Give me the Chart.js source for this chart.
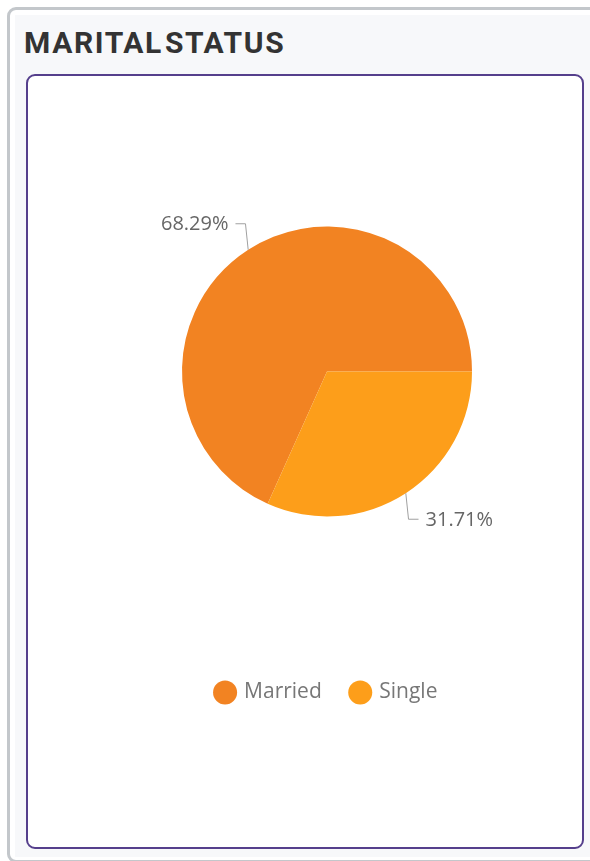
<!DOCTYPE html>
<html>
<head>
<meta charset="utf-8">
<script src="https://cdn.jsdelivr.net/npm/chart.js@4"></script>
<style>
  html, body { margin: 0; padding: 0; background: #fff; width: 590px; height: 861px; overflow: hidden; }
  .outer {
    position: absolute; left: 7px; top: 7px; width: 700px; height: 856px;
    border: 3px solid #c3c7cb; border-radius: 9px; box-sizing: border-box; background: #fff;
  }
  .panel {
    position: absolute; left: 15px; top: 15px; width: 600px; height: 842px; background: #f7f8fa;
  }
  .title {
    position: absolute; left: 24px; top: 25px; margin: 0;
    font: bold 30px Roboto, sans-serif; color: #333; letter-spacing: 1.6px; word-spacing: -7px;
  }
  .card {
    position: absolute; left: 26px; top: 74px; width: 558px; height: 775px;
    border: 2px solid #553f8c; border-radius: 9px; box-sizing: border-box; background: #fff;
  }
  #wrap { position: absolute; left: 71px; top: 91px; width: 512px; height: 622px; }
</style>
</head>
<body>
<div class="outer"></div>
<div class="panel"></div>
<h2 class="title">MARITAL STATUS</h2>
<div class="card"></div>
<div id="wrap"><canvas id="marital"></canvas></div>
<script>
const categories = ['Married', 'Single'];
const percentages = [68.29, 31.71];
const sliceColors = ['#f28322', '#fd9e1a'];

// percent labels with little leader lines, like the original
const pctLabels = {
  id: 'pctLabels',
  afterDatasetsDraw(chart) {
    const ctx = chart.ctx;
    const meta = chart.getDatasetMeta(0);
    ctx.save();
    ctx.font = '20px "Open Sans", sans-serif';
    ctx.fillStyle = '#666';
    ctx.strokeStyle = '#a0a0a0';
    ctx.lineWidth = 1;
    ctx.textBaseline = 'middle';
    meta.data.forEach((arc, i) => {
      const p = arc.getProps(['x', 'y', 'startAngle', 'endAngle', 'outerRadius'], true);
      const mid = (p.startAngle + p.endAngle) / 2;
      const cos = Math.cos(mid), sin = Math.sin(mid);
      const x1 = p.x + cos * p.outerRadius, y1 = p.y + sin * p.outerRadius;
      const x2 = x1 + cos * 5, y2 = y1 + sin * 31;
      const dir = cos >= 0 ? 1 : -1;
      const x3 = x2 + dir * 10;
      ctx.beginPath();
      ctx.moveTo(x1, y1);
      ctx.lineTo(x2, y2);
      ctx.lineTo(x3, y2);
      ctx.stroke();
      ctx.textAlign = dir > 0 ? 'left' : 'right';
      ctx.fillText(percentages[i].toFixed(2) + '%', x3 + dir * 7, y2 + 1);
    });
    ctx.restore();
  }
};

document.addEventListener("DOMContentLoaded", function() {
  const ctx = document.getElementById('marital').getContext('2d');
  new Chart(ctx, {
    type: 'pie',
    data: {
      labels: categories,
      datasets: [{
        data: percentages,
        backgroundColor: sliceColors,
        borderWidth: 0
      }]
    },
    options: {
      responsive: true,
      maintainAspectRatio: false,
      animation: false,
      radius: 145,
      rotation: 90 + percentages[1] * 3.6,
      layout: { padding: 0 },
      plugins: {
        tooltip: { enabled: false },
        legend: {
          position: 'bottom',
          labels: {
            usePointStyle: true,
            pointStyle: 'circle',
            boxWidth: 17,
            boxHeight: 17,
            padding: 30,
            color: '#777',
            font: { family: '"Open Sans", sans-serif', size: 21 }
          }
        }
      }
    },
    plugins: [pctLabels]
  });
});
</script>
</body>
</html>
